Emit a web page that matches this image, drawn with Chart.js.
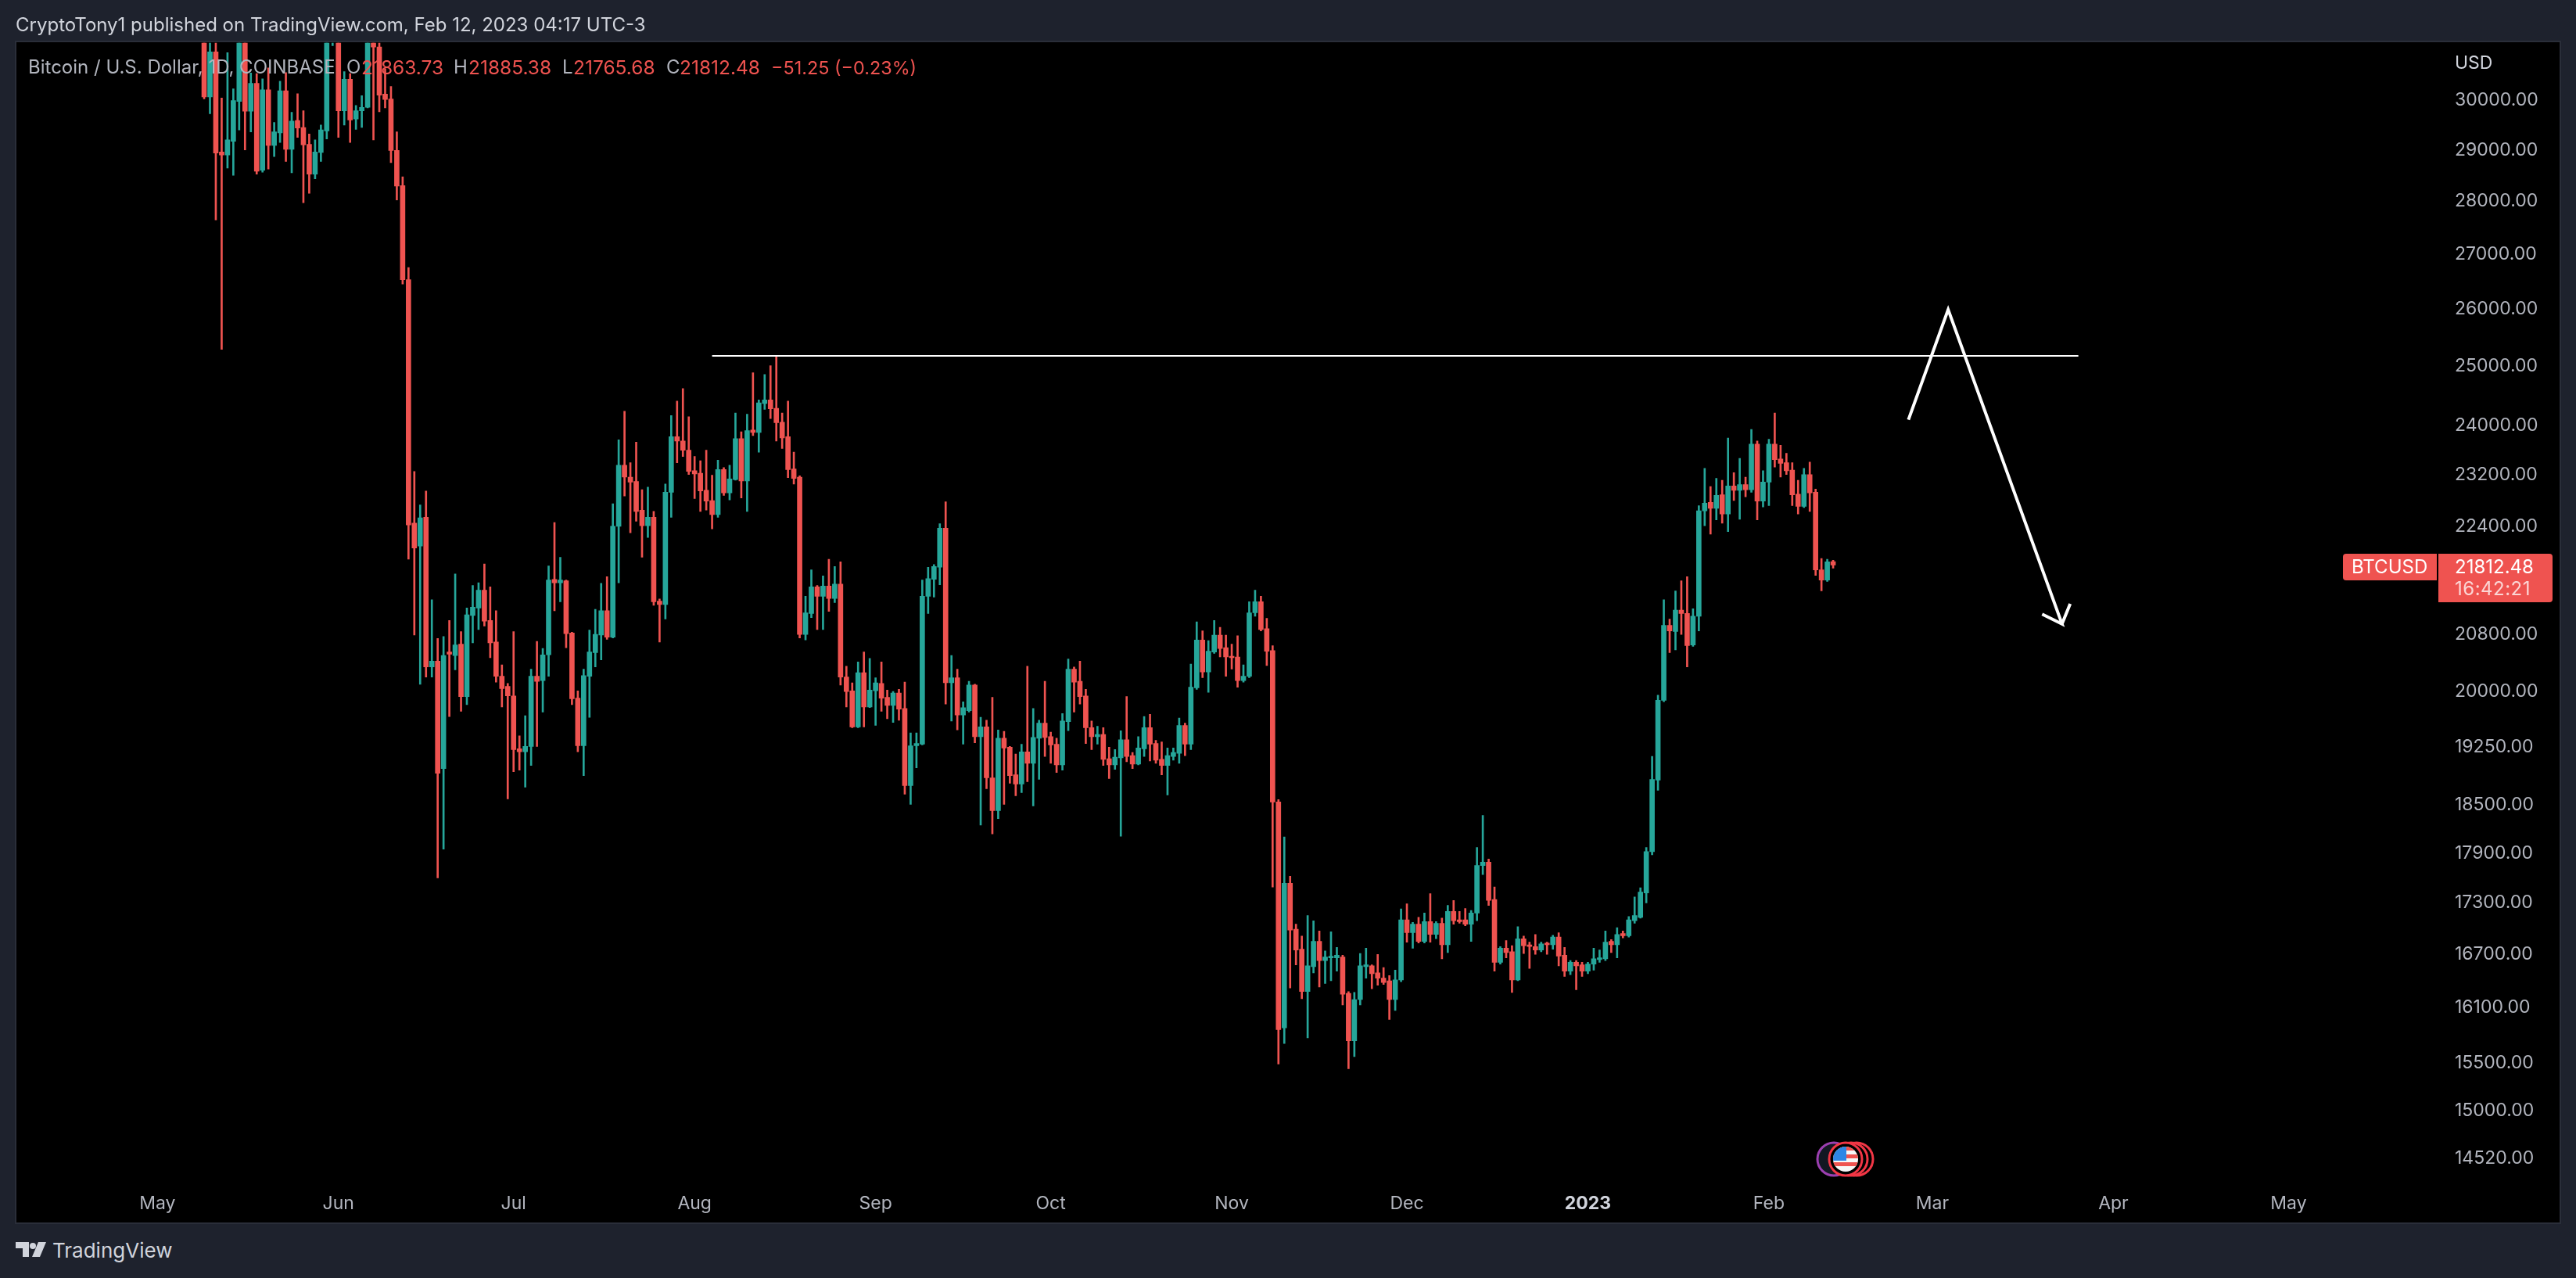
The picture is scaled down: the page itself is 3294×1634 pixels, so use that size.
<!DOCTYPE html>
<html>
<head>
<meta charset="utf-8">
<title>BTCUSD</title>
<script src="https://cdn.jsdelivr.net/npm/chart.js@4/dist/chart.umd.min.js"></script>
<style>
    html, body { margin: 0; padding: 0; width: 3294px; height: 1634px; background: #1e222d; overflow: hidden; }
    body { position: relative; font-family: Inter, "Noto Sans", sans-serif; }
    #pane { position: absolute; left: 21px; top: 54px; width: 3252px; height: 1509px; background: #000; box-shadow: 0 0 0 2px #2a2e39; }
    canvas { position: absolute; left: 21px; top: 20px; }
    .txt { position: absolute; white-space: nowrap; line-height: 1; }
    .grey { color: #b2b5be; font-size: 24px; top: 74px; }
    .red { color: #ef5350; font-size: 24.5px; top: 74px; }
    .box { position: absolute; background: #ef5350; }
</style>
</head>
<body>
<div id="pane"></div>
<canvas id="chart" width="3252" height="1543"></canvas>

<div class="txt" style="left:20px;top:20px;font-size:24px;color:#d1d4dc">CryptoTony1 published on TradingView.com, Feb 12, 2023 04:17 UTC-3</div>

<div class="txt grey" style="left:36px">Bitcoin / U.S. Dollar, 1D, COINBASE</div>
<div class="txt grey" style="left:443px">O</div><div class="txt red" style="left:462px">21863.73</div>
<div class="txt grey" style="left:580px">H</div><div class="txt red" style="left:599px">21885.38</div>
<div class="txt grey" style="left:719px">L</div><div class="txt red" style="left:733px">21765.68</div>
<div class="txt grey" style="left:852px">C</div><div class="txt red" style="left:869px">21812.48</div>
<div class="txt red" style="left:986px;font-size:23.4px;top:75px">−51.25 (−0.23%)</div>

<div class="txt" style="left:3139px;top:69px;font-size:23px;color:#d1d4dc">USD</div>

<div class="box" style="left:2996px;top:708px;width:120px;height:34px;border-radius:4px 0 0 4px"></div>
<div class="box" style="left:3118px;top:708px;width:146px;height:62px;border-radius:0 4px 4px 0"></div>
<div class="txt" style="left:3007px;top:713px;font-size:24px;color:#fff">BTCUSD</div>
<div class="txt" style="left:3139px;top:713px;font-size:24px;color:#fff">21812.48</div>
<div class="txt" style="left:3139px;top:741px;font-size:24px;letter-spacing:0.5px;color:#fbd5d4">16:42:21</div>

<svg style="position:absolute;left:2320px;top:1456px" width="80" height="52" viewBox="0 0 80 52">
    <circle cx="25" cy="26" r="21" fill="#131722" stroke="#9c3fb0" stroke-width="3"/>
    <circle cx="54" cy="26" r="21" fill="#000" stroke="#f23645" stroke-width="3"/>
    <circle cx="47" cy="26" r="21" fill="#000" stroke="#f23645" stroke-width="3"/>
    <circle cx="40" cy="26" r="21" fill="#000" stroke="#f23645" stroke-width="3"/>
    <clipPath id="flag"><circle cx="40" cy="26" r="16"/></clipPath>
    <g clip-path="url(#flag)">
        <rect x="24" y="10" width="32" height="32" fill="#f7f7f7"/>
        <rect x="24" y="10" width="32" height="5" fill="#ef5350"/>
        <rect x="24" y="20" width="32" height="5" fill="#ef5350"/>
        <rect x="24" y="30" width="32" height="5" fill="#ef5350"/>
        <rect x="24" y="10" width="17" height="18" fill="#2e86e6"/>
    </g>
</svg>

<svg style="position:absolute;left:20px;top:1588px" width="40" height="20" viewBox="0 0 40 20">
    <path d="M0 0H17V19H9V8H0Z" fill="#d1d4dc"/>
    <circle cx="22" cy="5" r="4" fill="#d1d4dc"/>
    <path d="M29 0H39L31 19H21Z" fill="#d1d4dc"/>
</svg>
<div class="txt" style="left:67px;top:1586px;font-size:26px;color:#d1d4dc">TradingView</div>

<script>
// BTCUSD daily candles, 9 May 2022 -> 12 Feb 2023, x is days from the first candle
const opens = [
    34060,30074,31017,28960,28900,29170,29980,31310,29780,30355,
    28600,30220,29090,29340,30200,29010,29590,29450,29110,28520,
    28950,29380,31700,31790,29790,30440,29620,29790,29860,31360,
    31120,30130,30030,28990,28300,26530,22450,22100,22540,20340,
    20420,18970,20550,20500,20660,19930,21070,21180,21440,21000,
    20690,20210,20070,19940,19230,19190,19260,20210,20150,20510,
    21600,21550,21580,20820,19910,19270,20210,20540,20790,21140,
    20760,22400,23360,23170,23100,22650,22410,22540,21280,21230,
    22930,23820,23750,23600,23270,23230,22960,22800,22580,23290,
    22920,23130,23790,23110,23930,23890,24370,24430,24290,24060,
    23820,23300,23170,20800,21100,21490,21350,21500,21320,21530,
    20200,20010,19520,20260,19790,20010,20110,19920,19810,19980,
    19770,18750,19270,19290,21350,21600,21780,22370,20120,20190,
    19680,19740,20090,19390,19520,18850,18430,19370,19250,18890,
    18770,19190,19040,19370,19570,19390,19290,19020,19590,20310,
    20140,19940,19510,19390,19420,19100,19020,19110,19350,19140,
    19030,19230,19510,19300,19090,19010,19130,19170,19540,19290,
    20050,20720,20270,20550,20790,20610,20490,20480,20150,20210,
    21110,21270,20880,20570,18540,15880,17535,16990,16760,16280,
    16560,16850,16630,16660,16660,16670,16260,15740,16190,16560,
    16570,16490,16430,16400,16190,16410,17100,16950,17050,16850,
    17080,16930,17060,16810,17200,17100,17100,17050,17180,17750,
    17790,17340,16610,16770,16730,16410,16880,16810,16790,16750,
    16830,16810,16900,16690,16510,16610,16580,16510,16590,16640,
    16650,16850,16810,16940,16915,17090,17130,17420,17920,18820,
    19880,20930,20840,21150,21100,20650,21060,22640,22770,22680,
    22890,22590,23030,22960,23050,22970,23700,22790,23090,23700,
    23460,23400,23280,22900,22710,23210,22930,21740,21590,21863.73
];
const closes = [
    30074,31017,28936,28900,29200,30000,31310,29780,30355,28580,
    30220,29090,29360,30200,29010,29580,29440,29100,28520,28960,
    29400,31700,31790,29790,30440,29600,29790,29860,31360,31120,
    30110,30020,28990,28290,26530,22420,22070,22530,20340,20420,
    18910,20500,20520,20650,19930,21080,21190,21440,20990,20680,
    20210,20040,19940,19220,19190,19260,20210,20140,20510,21590,
    21550,21590,20810,19900,19270,20220,20550,20800,21140,20760,
    22400,23360,23170,23090,22630,22410,22540,21270,21230,22930,
    23820,23750,23600,23260,23220,22950,22790,22580,23290,22920,
    23140,23790,23110,23920,23890,24380,24430,24280,24050,23800,
    23290,23150,20800,21110,21490,21350,21500,21320,21530,20200,
    20000,19520,20260,19790,20020,20120,19910,19810,19980,19760,
    18750,19270,19300,21350,21610,21790,22370,20120,20190,19680,
    19780,20090,19390,19520,18850,18430,19370,19240,18880,18770,
    19190,19040,19380,19570,19380,19280,19020,19600,20310,20130,
    19930,19510,19390,19420,19090,19020,19120,19350,19130,19030,
    19240,19510,19290,19080,19010,19140,19180,19540,19290,20060,
    20720,20270,20560,20790,20600,20480,20470,20150,20210,21110,
    21270,20870,20560,18540,15860,17535,16980,16750,16280,16570,
    16850,16630,16670,16680,16690,16250,15740,16190,16570,16580,
    16480,16430,16380,16190,16410,17100,16950,17050,16850,17080,
    16930,17060,16810,17200,17090,17080,17050,17180,17750,17790,
    17330,16610,16770,16720,16410,16880,16800,16790,16750,16820,
    16810,16900,16680,16510,16610,16570,16510,16590,16650,16660,
    16840,16810,16930,16915,17100,17150,17430,17920,18830,19880,
    20930,20850,21150,21100,20640,21060,22640,22760,22680,22880,
    22590,23030,22960,23050,22970,23700,22790,23090,23700,23450,
    23390,23270,22890,22710,23210,22920,21740,21590,21860,21812.48
];
const highs = [
    34245,32660,32190,30050,31000,30240,31400,31400,30570,30560,
    30450,30680,29550,30400,30580,29760,30140,29790,29320,29200,
    29500,32200,32400,31950,30600,30560,29900,30100,31750,31560,
    31300,30660,30290,29360,28470,26750,23260,22730,22950,21300,
    20740,20770,21000,21680,20840,21180,21510,21550,21830,21490,
    21140,20370,20110,20840,19400,19670,20310,20700,20600,21800,
    22460,21930,21590,20830,20010,20310,20860,21160,21540,21640,
    22750,23770,24240,23400,23730,22970,23010,22630,21310,23060,
    24170,24410,24620,24150,23500,23430,23600,23200,23440,23320,
    23360,24210,23900,24190,24890,24430,24860,25010,25170,24210,
    24410,23570,23190,21350,21740,21510,21650,21900,21790,21860,
    20350,20120,20410,20550,20460,20190,20410,20020,20000,20030,
    20130,19440,19440,21590,21780,21820,22440,22780,20500,20310,
    19860,20140,20100,19650,19610,19920,19480,19460,19260,19160,
    19290,20350,19770,19610,20140,19450,19370,19700,20450,20340,
    20420,20030,19600,19530,19510,19250,19220,19470,19930,19180,
    19390,19660,19690,19340,19320,19240,19240,19640,19570,20380,
    20980,20850,20710,21000,20900,20790,20660,20780,20370,21270,
    21440,21350,21030,20640,18570,18100,17620,17050,16910,17150,
    17090,16970,16740,16960,16780,16690,16280,16270,16710,16770,
    16580,16700,16550,16460,16520,17230,17290,17070,17130,17180,
    17410,17080,17120,17270,17330,17200,17235,17210,17970,18370,
    17830,17490,16790,16860,16800,17020,16910,16840,16930,16840,
    16840,16920,16950,16780,16630,16630,16610,16610,16770,16750,
    16970,16870,17010,16970,17140,17370,17480,17970,19130,19950,
    21300,21020,21430,21580,21640,21170,22720,23310,23020,23150,
    23120,23800,23240,23470,23170,23940,23750,23270,23780,24210,
    23680,23550,23400,23120,23310,23410,22980,21910,21900,21885.38
];
const lows = [
    30033,29730,27640,25290,28640,28500,29400,29000,29360,28520,
    28560,28620,28870,29150,28770,28550,29250,27970,28150,28430,
    28770,29220,31150,29250,29500,29150,29410,29450,29850,29200,
    29770,29850,28750,28020,26450,21900,20790,20100,20200,20200,
    17600,17950,19660,20300,19730,19820,20680,20870,20920,20470,
    20130,19790,18580,18930,18950,18730,19010,19260,19720,20210,
    21140,21270,20610,19820,19190,18880,19650,20340,20440,20730,
    20750,21550,22870,22300,22480,21930,22230,21220,20690,21020,
    22540,23400,23500,23210,22830,22630,22650,22360,22540,22880,
    22810,23120,22840,22630,23840,23570,24270,24120,23750,23630,
    23160,23060,20750,20720,21040,20870,20870,21130,21260,20090,
    19790,19510,19510,19520,19780,19540,19730,19630,19580,19610,
    18640,18510,18980,19280,21100,21340,21520,19830,19600,19480,
    19290,19720,19310,18250,18710,18140,18330,18510,18780,18620,
    18660,18800,18490,18830,19130,19040,18920,18950,19470,19720,
    19830,19300,19220,19290,19010,18840,18960,18110,19060,18970,
    19020,19130,19070,19040,18890,18630,19080,19040,19140,19220,
    20030,20190,19990,20530,20480,20210,20310,20060,20130,20190,
    21060,20850,20360,17490,15490,15710,16320,16580,16200,15770,
    16490,16330,16370,16400,16510,16130,15440,15570,16130,16430,
    16310,16350,16360,15970,16070,16390,16840,16770,16830,16830,
    16840,16880,16650,16720,17050,17060,17030,16850,17090,17640,
    17270,16510,16590,16660,16270,16400,16710,16540,16700,16730,
    16700,16760,16570,16450,16470,16300,16450,16480,16520,16610,
    16630,16720,16660,16890,16900,17060,17120,17300,17880,18690,
    19860,20540,20580,20800,20340,20630,20850,22410,22280,22500,
    22450,22320,22800,22510,22860,22930,22500,22700,22720,23330,
    23170,23210,22720,22590,22690,22630,21660,21430,21570,21765.68
];

// axis labels
const priceTicks = [30000,29000,28000,27000,26000,25000,24000,23200,22400,20800,20000,19250,18500,17900,17300,16700,16100,15500,15000,14520];
const monthLabels = ['May','Jun','Jul','Aug','Sep','Oct','Nov','Dec','2023','Feb','Mar','Apr','May'];
const monthDays = [-8,23,53,84,115,145,176,206,237,268,296,327,357];

// hand drawn level and arrow on the chart
const levelDays = [87,321];
const levelPrices = [25180,25180];
const arrowDays = [291.9,298.7,318.2,314.8,318.2,319.6];
const arrowPrices = [24100,25990,20950,21090,20950,21240];

const UP = '#26a69a';
const DOWN = '#ef5350';

const days = opens.map((_, i) => i);
const candleColors = opens.map((o, i) => closes[i] >= o ? UP : DOWN);

new Chart(document.getElementById('chart'), {
    type: 'bar',
    data: {
        datasets: [
            {
                type: 'line',
                data: levelDays.map((d, i) => ({ x: d, y: levelPrices[i] })),
                borderColor: '#ffffff',
                borderWidth: 2,
                pointRadius: 0,
                order: 0
            },
            {
                type: 'line',
                data: arrowDays.map((d, i) => ({ x: d, y: arrowPrices[i] })),
                borderColor: '#ffffff',
                borderWidth: 4,
                pointRadius: 0,
                tension: 0,
                borderJoinStyle: 'miter',
                order: 0
            },
            {
                // wicks
                data: days.map(d => ({ x: d, y: [lows[d], highs[d]] })),
                backgroundColor: candleColors,
                barThickness: 2,
                grouped: false,
                order: 2
            },
            {
                // bodies
                data: days.map(d => ({ x: d, y: [opens[d], closes[d]] })),
                backgroundColor: candleColors,
                barThickness: 6,
                grouped: false,
                order: 1
            }
        ]
    },
    options: {
        responsive: false,
        animation: false,
        events: [],
        layout: { padding: 0 },
        plugins: { legend: { display: false }, tooltip: { enabled: false } },
        scales: {
            x: {
                type: 'linear',
                offset: false,
                min: -32.15,
                max: 382.66,
                grid: { display: false, drawTicks: false },
                border: { display: false },
                afterBuildTicks: s => { s.ticks = monthDays.map(v => ({ value: v })); },
                afterFit: s => { s.height = 48; },
                ticks: {
                    autoSkip: false,
                    maxRotation: 0,
                    padding: 10,
                    color: ctx => ctx.index === 8 ? '#d1d4dc' : '#b2b5be',
                    font: ctx => ({ family: 'Inter', size: 23, weight: ctx.index === 8 ? 'bold' : 'normal' }),
                    callback: (v, i) => monthLabels[i]
                }
            },
            y: {
                type: 'logarithmic',
                position: 'right',
                min: 14257,
                max: 31210,
                grid: { display: false, drawTicks: false },
                border: { display: false },
                afterBuildTicks: s => { s.ticks = priceTicks.map(v => ({ value: v })); },
                afterFit: s => { s.width = 155; },
                ticks: {
                    autoSkip: false,
                    padding: 21,
                    color: '#b2b5be',
                    font: { family: 'Inter', size: 23 },
                    callback: v => v.toFixed(2)
                }
            }
        }
    }
});
</script>
</body>
</html>
